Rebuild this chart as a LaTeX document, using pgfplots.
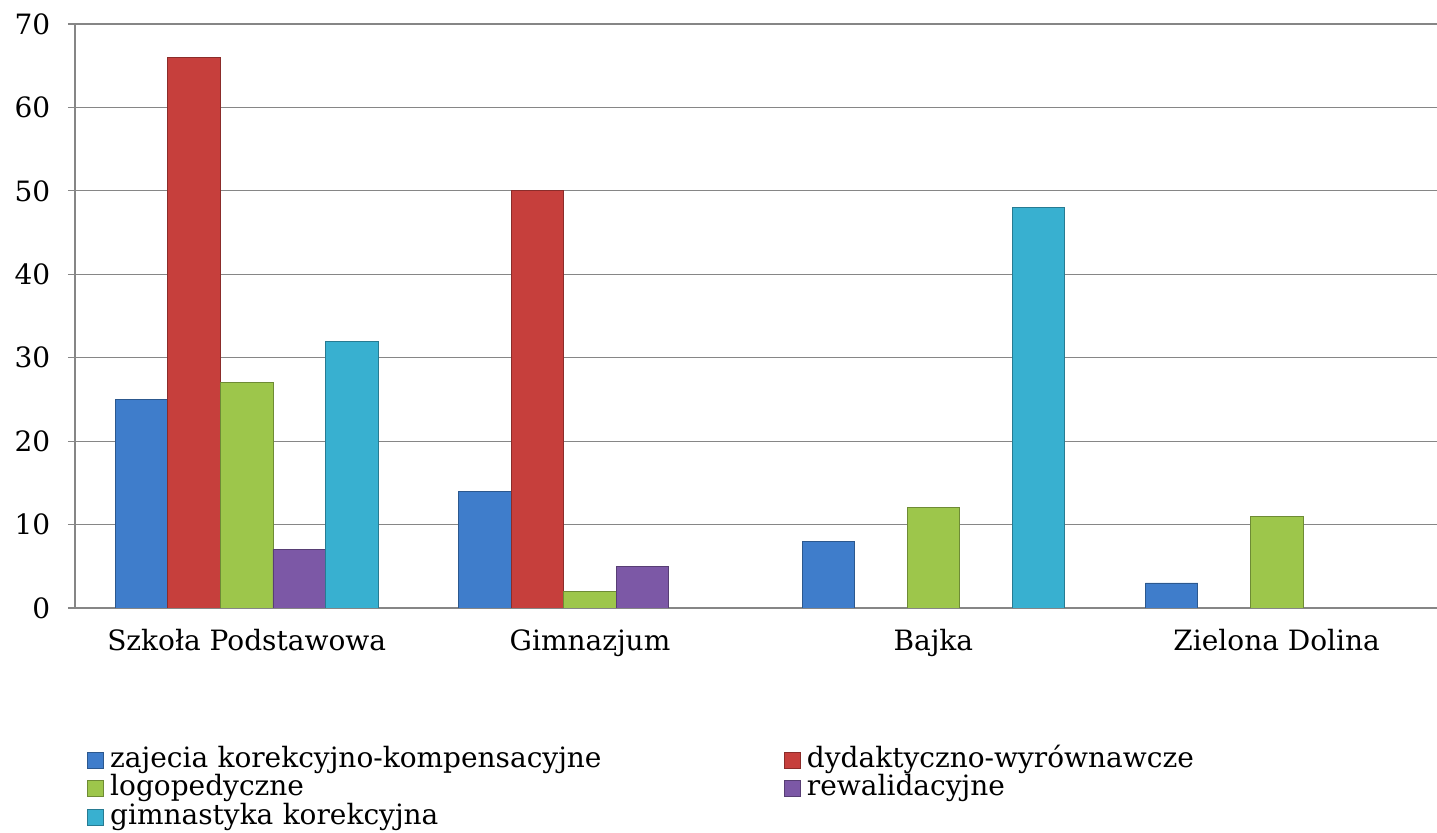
\documentclass[border=0pt]{standalone}
\usepackage{pgfplots}
\pgfplotsset{compat=1.18}
\usepackage{fontspec}
\setmainfont{DejaVu Serif}
\definecolor{cblue}{HTML}{3F7DCB}
\definecolor{cred}{HTML}{C63F3C}
\definecolor{cgreen}{HTML}{9DC64B}
\definecolor{cpurple}{HTML}{7C58A6}
\definecolor{ccyan}{HTML}{38B0D0}
\definecolor{axgray}{HTML}{868686}
\begin{document}
\fontsize{14pt}{17pt}\selectfont
\begin{tikzpicture}
\useasboundingbox (-37.5pt,-112.5pt) rectangle (681pt,304pt);
\begin{axis}[
  at={(0pt,0pt)}, anchor=south west,
  scale only axis, width=681pt, height=292pt,
  xmin=-0.5, xmax=3.467, ymin=0, ymax=70,
  ybar=0pt, bar width=0.153,
  axis x line*=bottom, axis y line*=left,
  axis line style={draw=axgray, line width=0.8pt, -},
  xtick={0,1,2,3},
  xticklabels={Szkoła Podstawowa, Gimnazjum, Bajka, Zielona Dolina},
  xtick style={draw=none},
  extra x ticks={-0.5,0.5,1.5,2.5},
  extra x tick labels={},
  extra x tick style={tick style={draw=axgray, line width=0.6pt}, major tick length=4.5pt, tick align=outside},
  ytick={0,10,...,70},
  ytick style={draw=axgray, line width=0.6pt},
  tick align=outside, major tick length=3.5pt,
  ymajorgrids, grid style={draw=axgray, line width=0.6pt},
  /pgf/number format/assume math mode=true,
  ticklabel style={font=\fontsize{14pt}{17pt}\selectfont},
  xticklabel style={yshift=-2.5pt},
  yticklabel style={xshift=-4pt},
  legend columns=2,
  legend image code/.code={\fill[#1] (0pt,-3.5pt) rectangle (8pt,4.5pt);},
  legend style={at={(0.00881,-0.238)}, anchor=north west, draw=none, fill=none,
    inner sep=0pt, row sep=0.25pt,
    font=\fontsize{14pt}{17pt}\selectfont,
    nodes={inner sep=0pt, text height=10pt, text depth=4pt, text width=337pt, align=left},
    /tikz/every odd column/.append style={column sep=3pt}},
  legend cell align=left,
]
\addplot[fill=cblue, draw=cblue!70!black, line width=0.4pt] coordinates {(0,25) (1,14) (2,8) (3,3)};
\addplot[fill=cred, draw=cred!70!black, line width=0.4pt] coordinates {(0,66) (1,50)};
\addplot[fill=cgreen, draw=cgreen!70!black, line width=0.4pt] coordinates {(0,27) (1,2) (2,12) (3,11)};
\addplot[fill=cpurple, draw=cpurple!70!black, line width=0.4pt] coordinates {(0,7) (1,5)};
\addplot[fill=ccyan, draw=ccyan!70!black, line width=0.4pt] coordinates {(0,32) (2,48)};
\legend{zajecia korekcyjno-kompensacyjne, dydaktyczno-wyrównawcze, logopedyczne, rewalidacyjne, gimnastyka korekcyjna}
\end{axis}
\end{tikzpicture}
\end{document}
